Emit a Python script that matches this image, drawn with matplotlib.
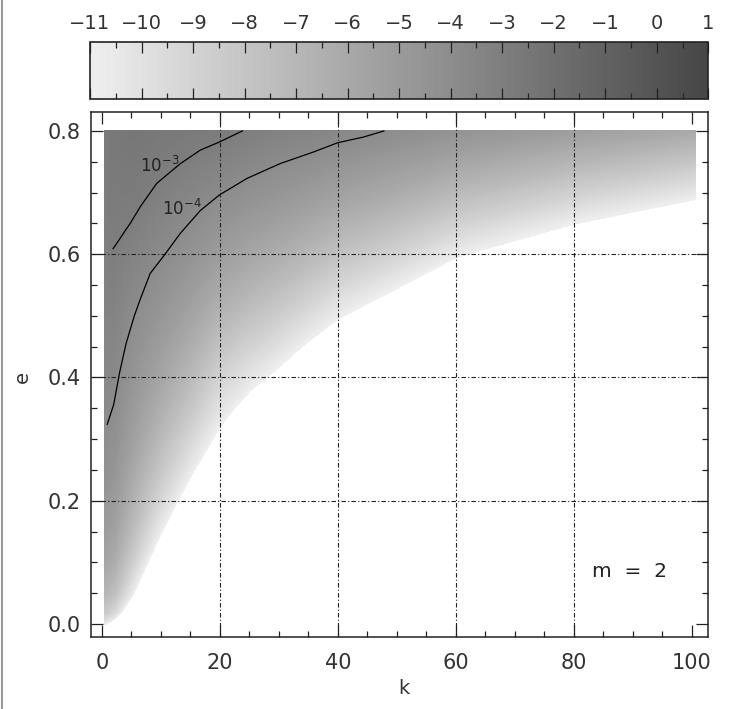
import numpy as np
import matplotlib
matplotlib.use("Agg")
import matplotlib.pyplot as plt
from matplotlib.colors import LinearSegmentedColormap, Normalize
from matplotlib.cm import ScalarMappable
from matplotlib.ticker import MultipleLocator
from matplotlib.lines import Line2D

# grid of log10 values (rows: e, columns: k)
k_nodes = [0.5, 2, 5, 10, 15, 20, 25, 30, 40, 50, 60, 80, 100.5]
e_nodes = [0.0, 0.01, 0.02, 0.05, 0.1, 0.15, 0.2, 0.25, 0.3, 0.35, 0.4,
           0.45, 0.5, 0.55, 0.6, 0.65, 0.7, 0.75, 0.8]
log_level = [
    [-10.9, -14.0, -25.0, -40.0, -50.0, -60.0, -70.0, -80.0, -100.0, -120.0, -150.0, -190.0, -230.0],
    [-9.46, -10.59, -15.38, -25.5, -35.4, -48.9, -57.1, -65.3, -87.8, -106.5, -133.3, -172.6, -212.3],
    [-8.36, -9.30, -13.33, -21.76, -30.1, -41.3, -48.3, -55.1, -73.9, -89.7, -112.0, -145.0, -178.3],
    [-6.91, -7.60, -10.62, -16.82, -23.0, -31.3, -36.5, -41.6, -55.6, -67.3, -84.0, -108.6, -133.4],
    [-5.82, -6.31, -8.58, -13.10, -17.65, -23.8, -27.6, -31.4, -41.8, -50.5, -62.8, -81.1, -99.5],
    [-5.18, -5.56, -7.39, -10.93, -14.53, -19.4, -22.5, -25.5, -33.8, -40.7, -50.5, -65.1, -79.8],
    [-4.73, -5.04, -6.55, -9.40, -12.34, -16.3, -18.8, -21.3, -28.1, -33.8, -41.8, -53.8, -65.9],
    [-4.39, -4.63, -5.91, -8.23, -10.66, -13.6, -16.0, -18.11, -23.75, -28.49, -35.2, -45.2, -55.2],
    [-4.11, -4.31, -5.39, -7.29, -9.31, -11.6, -13.79, -15.53, -20.24, -24.22, -29.8, -38.2, -46.6],
    [-3.88, -4.04, -4.96, -6.50, -8.18, -10.2, -11.92, -13.38, -17.32, -20.67, -25.35, -32.4, -39.5],
    [-3.68, -3.78, -4.59, -5.83, -7.22, -9.07, -10.33, -11.56, -14.84, -17.65, -21.56, -27.5, -33.4],
    [-3.51, -3.55, -4.27, -5.26, -6.40, -7.91, -8.96, -9.99, -12.71, -15.05, -18.30, -23.2, -28.2],
    [-3.36, -3.35, -4.00, -4.76, -5.68, -6.90, -7.77, -8.62, -10.86, -12.79, -15.46, -19.5, -23.6],
    [-3.24, -3.18, -3.63, -4.32, -5.05, -6.01, -6.73, -7.42, -9.24, -10.81, -12.97, -16.31, -19.67],
    [-3.12, -3.03, -3.31, -3.92, -4.50, -5.23, -5.82, -6.38, -7.81, -9.08, -10.80, -13.48, -16.18],
    [-3.02, -2.90, -3.03, -3.51, -4.02, -4.55, -5.02, -5.46, -6.56, -7.56, -8.89, -11.00, -13.12],
    [-2.94, -2.78, -2.80, -3.14, -3.51, -3.95, -4.32, -4.65, -5.47, -6.22, -7.21, -8.82, -10.44],
    [-2.86, -2.69, -2.61, -2.85, -3.06, -3.34, -3.66, -3.94, -4.52, -5.07, -5.75, -6.93, -8.11],
    [-2.80, -2.60, -2.45, -2.60, -2.75, -2.85, -3.05, -3.25, -3.65, -4.07, -4.50, -5.30, -6.10],
]

# contour lines
k_1e3 = [1.9, 2.9, 4.0, 4.8, 6.5, 9.3, 13.3, 16.7, 19.9, 23.8]
e_1e3 = [0.609, 0.623, 0.639, 0.650, 0.677, 0.715, 0.747, 0.769, 0.782, 0.800]
k_1e4 = [0.9, 2.0, 3.0, 4.1, 5.5, 6.5, 8.2, 10.7, 13.3, 16.7, 19.9, 24.6, 30.2, 35.9, 40.0, 44.3, 47.8]
e_1e4 = [0.324, 0.356, 0.408, 0.455, 0.500, 0.527, 0.569, 0.600, 0.634, 0.671, 0.696, 0.723,
         0.747, 0.766, 0.781, 0.790, 0.800]

x_ticks = [0, 20, 40, 60, 80, 100]
y_ticks = [0.0, 0.2, 0.4, 0.6, 0.8]
bar_ticks = list(range(-11, 2))

plt.rcParams['font.family'] = 'DejaVu Sans'
ink = '#222222'
grey = LinearSegmentedColormap.from_list('grey', ['#efefef', '#464646'])
norm = Normalize(-11, 1)

fig = plt.figure(figsize=(7.47, 7.09), dpi=100)
ax = fig.add_axes([0.1214, 0.1020, 0.8268, 0.7405])
cax = fig.add_axes([0.1205, 0.8608, 0.8277, 0.0795])

cf = ax.contourf(k_nodes, e_nodes, log_level, levels=np.linspace(-11, 1, 241),
                 cmap=grey, norm=norm, zorder=1)
cf.set_edgecolor('face')

grid_style = dict(color=ink, lw=0.8, ls=(0, (4, 2, 1, 2)), zorder=2)
for x in x_ticks[1:-1]:
    ax.axvline(x, **grid_style)
for y in y_ticks[1:-1]:
    ax.axhline(y, **grid_style)

ax.plot(k_1e3, e_1e3, color='black', lw=0.9, zorder=3)
ax.plot(k_1e4, e_1e4, color='black', lw=0.9, zorder=3)
ax.text(6.5, 0.734, r'$10^{-3}$', fontsize=12, color=ink, zorder=4)
ax.text(10.2, 0.664, r'$10^{-4}$', fontsize=12, color=ink, zorder=4)
ax.text(83.1, 0.0768, 'm  =  2', fontsize=14.5, color=ink)

ax.set_xlim(-1.9, 102.8)
ax.set_ylim(-0.0206, 0.8313)
ax.set_xticks(x_ticks)
ax.set_yticks(y_ticks)
ax.set_yticklabels(['%.1f' % y for y in y_ticks])
ax.xaxis.set_minor_locator(MultipleLocator(5))
ax.yaxis.set_minor_locator(MultipleLocator(0.05))
ax.tick_params(which='both', direction='in', top=True, right=True, width=0.9,
               color=ink, labelcolor='#333333', labelsize=15)
ax.tick_params(which='major', length=8.6)
ax.tick_params(which='minor', length=4.3)
ax.tick_params(axis='x', pad=12)
ax.tick_params(axis='y', pad=7)
for s in ax.spines.values():
    s.set_linewidth(1.1)
    s.set_color(ink)

cb = fig.colorbar(ScalarMappable(norm=norm, cmap=grey), cax=cax,
                  orientation='horizontal', ticks=bar_ticks)
cb.ax.xaxis.set_minor_locator(MultipleLocator(0.5))
cax.tick_params(which='both', direction='in', top=True, bottom=True,
                labeltop=True, labelbottom=False, width=0.9, color=ink,
                labelcolor='#333333', labelsize=14, pad=7)
cax.tick_params(which='major', length=8)
cax.tick_params(which='minor', length=4.3)
cb.outline.set_linewidth(1.2)
cb.outline.set_edgecolor(ink)

fig.text(404 / 747, 1 - 689 / 709, 'k', ha='center', va='center', fontsize=14, color='#333333')
fig.text(22 / 747, 1 - 377 / 709, 'e', ha='center', va='center', rotation=90,
         fontsize=14, color='#333333')
fig.add_artist(Line2D([2 / 747, 2 / 747], [0, 1], color='#9a9a9a', lw=1.5))

fig.savefig('out.png', dpi=100)
